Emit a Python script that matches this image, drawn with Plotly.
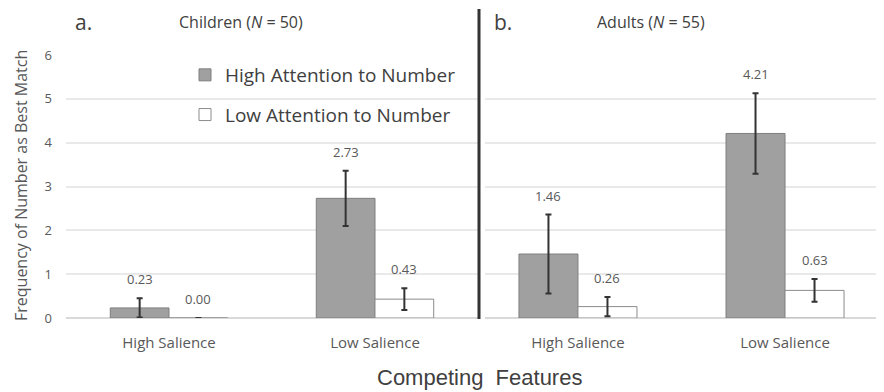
import plotly.graph_objects as go

categories = ["High Salience", "Low Salience"]
series_names = ["High Attention to Number", "Low Attention to Number"]

children_high = [0.23, 2.73]
children_low = [0.00, 0.43]
children_high_err = [0.22, 0.63]
children_low_err = [0.00, 0.25]

adults_high = [1.46, 4.21]
adults_low = [0.26, 0.63]
adults_high_err = [0.90, 0.92]
adults_low_err = [0.22, 0.26]

y_ticks = [0, 1, 2, 3, 4, 5, 6]

FONT = "Open Sans"
TXT = "#595959"
DARK = "#404040"
HIGH_FILL = "#a0a0a0"
HIGH_LINE = "#7f7f7f"
LOW_FILL = "#ffffff"
LOW_LINE = "#8c8c8c"
ERR = "#333333"

BARGAP = 0.43
OFF = (1 - BARGAP) / 4

# page is offset by the browser's 8px body margin
OX, OY = 8, 8
W, H = 884 - OX, 392 - OY
PL, PR, PT, PB = 66, 884, 55, 318   # plot area in page pixels


def px(x):
    return (x - PL) / (PR - PL)


def py(y):
    return (PB - y) / (PB - PT)


fig = go.Figure()


def add_pair(high, low, herr, lerr, xa, ya, show):
    fig.add_trace(go.Bar(
        x=categories, y=high, name=series_names[0], xaxis=xa, yaxis=ya,
        marker=dict(color=HIGH_FILL, line=dict(color=HIGH_LINE, width=1)),
        error_y=dict(type="data", array=herr, color=ERR, thickness=2, width=3),
        showlegend=show, legendgroup="h"))
    fig.add_trace(go.Bar(
        x=categories, y=low, name=series_names[1], xaxis=xa, yaxis=ya,
        marker=dict(color=LOW_FILL, line=dict(color=LOW_LINE, width=1)),
        error_y=dict(type="data", array=lerr, color=ERR, thickness=2, width=3),
        showlegend=show, legendgroup="l"))
    for i, c in enumerate(categories):
        for vals, errs, off in ((high, herr, -OFF), (low, lerr, OFF)):
            fig.add_annotation(
                x=i + off, y=vals[i] + errs[i], xref=xa, yref=ya,
                text=f"{vals[i]:.2f}", showarrow=False, yanchor="bottom",
                yshift=8, font=dict(family=FONT, size=13, color=TXT))


add_pair(children_high, children_low, children_high_err, children_low_err, "x", "y", True)
add_pair(adults_high, adults_low, adults_high_err, adults_low_err, "x2", "y2", False)

grid = "#e9e9e9"
fig.update_layout(
    width=W, height=H,
    margin=dict(l=PL - OX, r=0, t=PT - OY, b=H - (PB - OY)),
    paper_bgcolor="white", plot_bgcolor="white",
    barmode="group", bargap=BARGAP, bargroupgap=0,
    font=dict(family=FONT, color=TXT),
    xaxis=dict(domain=[0, px(478)], range=[-0.5, 1.5], showline=False, ticks="",
               ticklabelstandoff=14,
               tickfont=dict(family=FONT, size=15, color=TXT)),
    xaxis2=dict(domain=[px(485), 1], range=[-0.449, 1.478], showline=False, ticks="",
                ticklabelstandoff=14,
                tickfont=dict(family=FONT, size=15, color=TXT), anchor="y2"),
    yaxis=dict(range=[0, 6], tickvals=y_ticks, showgrid=True, gridcolor=grid,
               gridwidth=1.5, zeroline=True, zerolinecolor="#d9d9d9", zerolinewidth=1.5,
               showline=False, ticks="", ticklabelstandoff=13,
               tickfont=dict(family=FONT, size=13, color=TXT)),
    yaxis2=dict(range=[0, 6], tickvals=y_ticks, showgrid=True, gridcolor=grid,
                gridwidth=1.5, zeroline=True, zerolinecolor="#d9d9d9", zerolinewidth=1.5,
                showticklabels=False, anchor="x2", matches="y"),
    legend=dict(x=px(185), y=py(56), xanchor="left", yanchor="top",
                bgcolor="rgba(0,0,0,0)", tracegroupgap=12, traceorder="grouped",
                font=dict(family=FONT, size=19, color=DARK), itemwidth=30),
)

fig.add_shape(type="line", xref="paper", yref="paper",
              x0=px(479), x1=px(479), y0=py(319), y1=py(9),
              line=dict(color="#333333", width=3))

# y axis title
fig.add_annotation(text="Frequency of Number as Best Match", x=px(21), y=py(186),
                   xref="paper", yref="paper", xanchor="center", yanchor="middle",
                   textangle=-90, showarrow=False, borderpad=0,
                   font=dict(family=FONT, size=16, color=TXT))

ann = [
    dict(text="a.", x=px(73), size=21, xanchor="left"),
    dict(text="b.", x=px(492), size=21, xanchor="left"),
    dict(text="Children (<i>N</i> = 50)", x=px(241), size=16, xanchor="center"),
    dict(text="Adults (<i>N</i> = 55)", x=px(651), size=16, xanchor="center"),
]
for a in ann:
    fig.add_annotation(text=a["text"], x=a["x"], y=py(22), xref="paper", yref="paper",
                       xanchor=a["xanchor"], yanchor="middle", showarrow=False,
                       font=dict(family=FONT, size=a["size"], color=DARK))

fig.add_annotation(text="Competing  Features", x=px(479), y=py(377),
                   xref="paper", yref="paper", xanchor="center", yanchor="middle",
                   showarrow=False,
                   font=dict(family="Liberation Sans", size=22, color=DARK))

fig.write_html("out.html")
